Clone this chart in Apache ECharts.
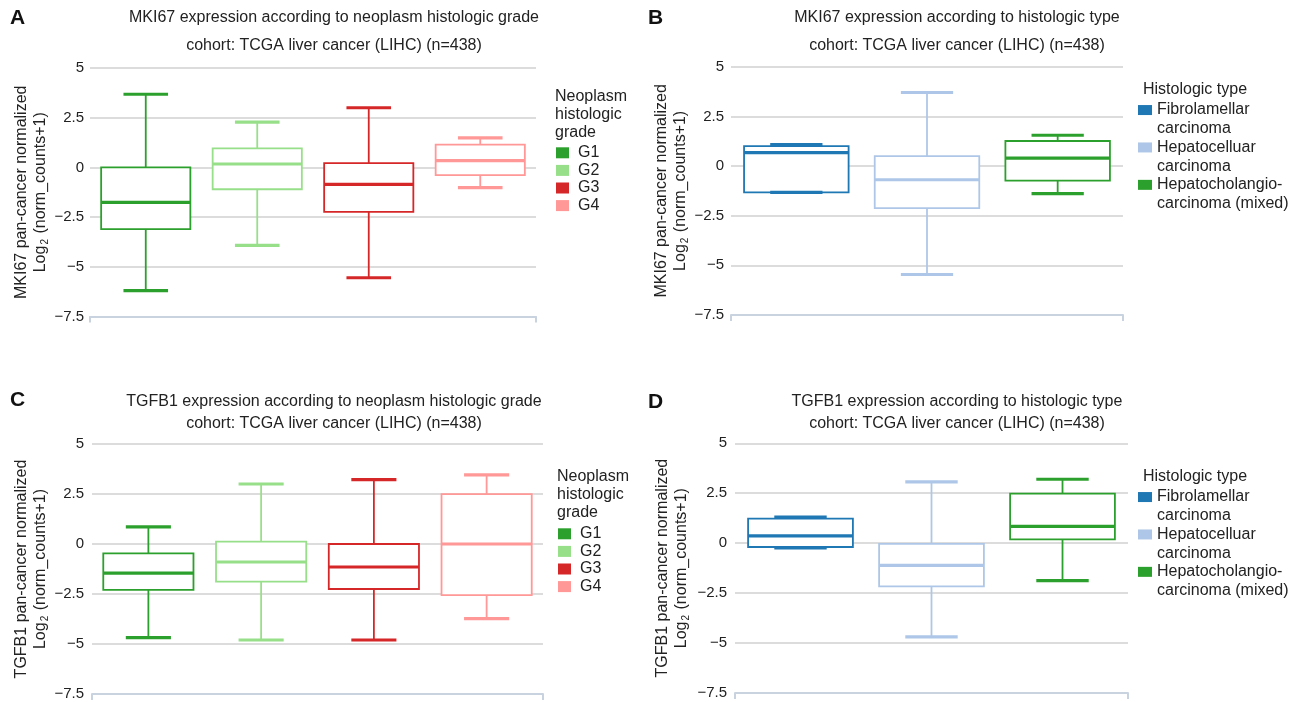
<!DOCTYPE html>
<html><head><meta charset="utf-8">
<script src="https://cdn.jsdelivr.net/npm/echarts@6/dist/echarts.min.js"></script>
<style>html,body{margin:0;padding:0;background:#fff;} #c{width:1297px;height:702px;}</style>
</head><body><div id="c"></div>
<script>
// ---- data ----
const gradeCategories = ['G1', 'G2', 'G3', 'G4'];
const typeCategories = ['Fibrolamellar\ncarcinoma', 'Hepatocelluar\ncarcinoma', 'Hepatocholangio-\ncarcinoma (mixed)'];
// each row: [min, Q1, median, Q3, max]
const mki67ByGrade = [
  [-6.2, -3.1, -1.76, 0.0, 3.68],
  [-3.92, -1.1, 0.17, 0.96, 2.28],
  [-5.55, -2.24, -0.85, 0.22, 3.0],
  [-1.02, -0.39, 0.34, 1.15, 1.49]
];
const mki67ByType = [
  [-1.33, -1.33, 0.67, 1.0, 1.08],
  [-5.46, -2.12, -0.69, 0.5, 3.7],
  [-1.39, -0.74, 0.40, 1.26, 1.55]
];
const tgfb1ByGrade = [
  [-4.68, -2.29, -1.46, -0.47, 0.86],
  [-4.8, -1.88, -0.9, 0.12, 3.0],
  [-4.8, -2.25, -1.15, 0.0, 3.22],
  [-3.73, -2.56, 0.0, 2.49, 3.46]
];
const tgfb1ByType = [
  [-0.24, -0.19, 0.37, 1.23, 1.3],
  [-4.69, -2.16, -1.11, -0.03, 3.07],
  [-1.87, 0.19, 0.84, 2.48, 3.2]
];
const yMin = -7.5, yMax = 5, yStep = 2.5;
const gradeColors = ['#2ca02c', '#98df8a', '#d62728', '#ff9896'];
const typeColors = ['#1f77b4', '#aec7e8', '#2ca02c'];

// ---- layout ----
const FONT = '"Liberation Sans", Arial, Helvetica, sans-serif';
const panels = [
  {letter: 'A', gene: 'MKI67', title: 'MKI67 expression according to neoplasm histologic grade',
   cats: gradeCategories, stats: mki67ByGrade, colors: gradeColors,
   grid: {left: 90, top: 68, width: 446, height: 248.5}, nameGap: 38, labelMargin: 6,
   letterPos: [10, 18], titleX: 334, titleY: [18, 46],
   legTitle: 'Neoplasm\nhistologic\ngrade', legTitlePos: [555, 88], legPos: [556, 144], multi: false},
  {letter: 'B', gene: 'MKI67', title: 'MKI67 expression according to histologic type',
   cats: typeCategories, stats: mki67ByType, colors: typeColors,
   grid: {left: 731, top: 66.7, width: 392, height: 248.3}, nameGap: 41, labelMargin: 7,
   letterPos: [648, 18], titleX: 957, titleY: [18, 46],
   legTitle: 'Histologic type', legTitlePos: [1143, 81], legPos: [1138, 82], multi: true},
  {letter: 'C', gene: 'TGFB1', title: 'TGFB1 expression according to neoplasm histologic grade',
   cats: gradeCategories, stats: tgfb1ByGrade, colors: gradeColors,
   grid: {left: 92, top: 444, width: 451, height: 250}, nameGap: 40, labelMargin: 8,
   letterPos: [10, 400], titleX: 334, titleY: [402, 424],
   legTitle: 'Neoplasm\nhistologic\ngrade', legTitlePos: [557, 468], legPos: [558, 525], multi: false},
  {letter: 'D', gene: 'TGFB1', title: 'TGFB1 expression according to histologic type',
   cats: typeCategories, stats: tgfb1ByType, colors: typeColors,
   grid: {left: 735, top: 443.3, width: 393, height: 249.7}, nameGap: 44, labelMargin: 8,
   letterPos: [648, 402], titleX: 957, titleY: [402, 424],
   legTitle: 'Histologic type', legTitlePos: [1143, 468], legPos: [1138, 469], multi: true}
];

function boxRender(color) {
  return function (params, api) {
    const xv = api.value(0);
    const v = [1, 2, 3, 4, 5].map(function (i) { return api.value(i); });
    const band = api.size([1, 0])[0];
    const half = band * 0.4, capHalf = band * 0.2;
    const cx = api.coord([xv, 0])[0];
    const y = v.map(function (val) { return api.coord([xv, val])[1]; });
    const thin = 1.8, thick = 3.2;
    return {type: 'group', children: [
      {type: 'line', shape: {x1: cx, y1: y[4], x2: cx, y2: y[3]}, style: {stroke: color, lineWidth: thin}},
      {type: 'line', shape: {x1: cx, y1: y[1], x2: cx, y2: y[0]}, style: {stroke: color, lineWidth: thin}},
      {type: 'rect', shape: {x: cx - half, y: y[3], width: 2 * half, height: y[1] - y[3]}, style: {fill: '#fff', stroke: color, lineWidth: thin}},
      {type: 'line', shape: {x1: cx - half, y1: y[2], x2: cx + half, y2: y[2]}, style: {stroke: color, lineWidth: thick}},
      {type: 'line', shape: {x1: cx - capHalf, y1: y[4], x2: cx + capHalf, y2: y[4]}, style: {stroke: color, lineWidth: thick}},
      {type: 'line', shape: {x1: cx - capHalf, y1: y[0], x2: cx + capHalf, y2: y[0]}, style: {stroke: color, lineWidth: thick}}
    ]};
  };
}

const option = {animation: false, backgroundColor: '#fff', textStyle: {fontFamily: FONT},
  title: [], grid: [], xAxis: [], yAxis: [], legend: [], series: []};

panels.forEach(function (p, k) {
  option.grid.push(Object.assign({containLabel: false}, p.grid));
  option.title.push({text: p.letter, left: p.letterPos[0], top: p.letterPos[1], padding: 0,
    textAlign: 'left', textVerticalAlign: 'middle',
    textStyle: {fontFamily: FONT, fontSize: 21, fontWeight: 'bold', color: '#111'}});
  option.title.push({text: p.title, left: p.titleX, top: p.titleY[0], padding: 0,
    textAlign: 'center', textVerticalAlign: 'middle',
    textStyle: {fontFamily: FONT, fontSize: 16, fontWeight: 'normal', color: '#222'}});
  option.title.push({text: 'cohort: TCGA liver cancer (LIHC) (n=438)', left: p.titleX, top: p.titleY[1], padding: 0,
    textAlign: 'center', textVerticalAlign: 'middle',
    textStyle: {fontFamily: FONT, fontSize: 16, fontWeight: 'normal', color: '#222'}});
  option.title.push({text: p.legTitle, left: p.legTitlePos[0], top: p.legTitlePos[1], padding: 0,
    textAlign: 'left', textVerticalAlign: 'top',
    textStyle: {fontFamily: FONT, fontSize: 16, fontWeight: 'normal', color: '#222', lineHeight: 18}});
  const n = p.cats.length;
  option.xAxis.push({type: 'value', gridIndex: k, min: 0, max: n, interval: n,
    axisLine: {show: true, onZero: false, lineStyle: {color: '#c9d3df', width: 2}},
    axisTick: {show: true, length: 6, lineStyle: {color: '#c9d3df', width: 2}},
    axisLabel: {show: false}, splitLine: {show: false}});
  option.yAxis.push({type: 'value', gridIndex: k, min: yMin, max: yMax, interval: yStep,
    axisLine: {show: false}, axisTick: {show: false},
    splitLine: {show: true, lineStyle: {color: '#dcdcdc', width: 2}},
    axisLabel: {margin: p.labelMargin, fontFamily: FONT, fontSize: 15, color: '#222',
      formatter: function (v) { return String(v).replace('-', '\u2212'); }},
    name: '{a|' + p.gene + ' pan-cancer normalized}\n{a|Log}{s|2}{a| (norm_counts+1)}',
    nameLocation: 'middle', nameGap: p.nameGap,
    nameTextStyle: {fontFamily: FONT, fontSize: 16, color: '#222', lineHeight: 19,
      rich: {a: {fontFamily: FONT, fontSize: 16, color: '#222', lineHeight: 19},
             s: {fontFamily: FONT, fontSize: 10, color: '#222', lineHeight: 19, verticalAlign: 'bottom', padding: [0, 1, 0, 1]}}}});
  p.cats.forEach(function (name, i) {
    option.series.push({type: 'custom', name: name, xAxisIndex: k, yAxisIndex: k,
      itemStyle: {color: p.colors[i]}, encode: {x: 0, y: [1, 2, 3, 4, 5]},
      data: [[i + 0.5].concat(p.stats[i])], renderItem: boxRender(p.colors[i]), z: 3, silent: true});
  });
  const leg = {data: p.cats.slice(), orient: 'vertical', left: p.legPos[0], top: p.legPos[1], padding: 0,
    icon: 'rect', selectedMode: false};
  if (p.multi) {
    Object.assign(leg, {itemWidth: 14, itemHeight: 10, itemGap: -18.7,
      formatter: function (nm) { return '\n' + nm; },
      textStyle: {fontFamily: FONT, fontSize: 16, color: '#222', lineHeight: 18.7}});
  } else {
    Object.assign(leg, {itemWidth: 13, itemHeight: 11, itemGap: 0,
      textStyle: {fontFamily: FONT, fontSize: 16, color: '#222', lineHeight: 17.6, padding: [0, 0, 0, 4]}});
  }
  option.legend.push(leg);
});

const chart = echarts.init(document.getElementById('c'), null, {renderer: 'canvas'});
chart.setOption(option);
</script></body></html>
